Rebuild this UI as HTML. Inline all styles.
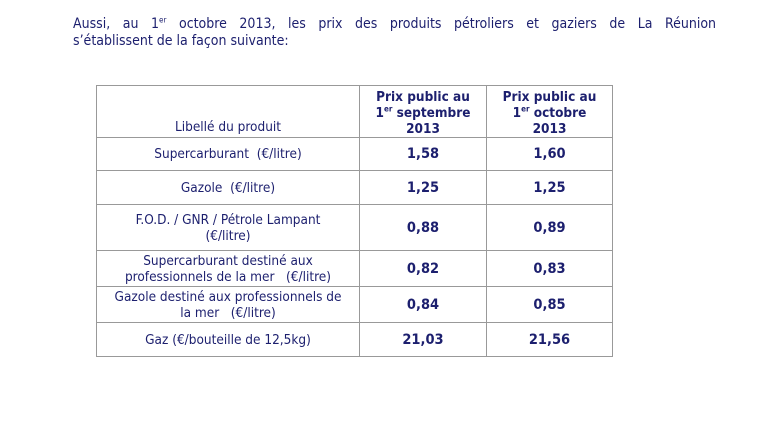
<!DOCTYPE html>
<html><head><meta charset="utf-8"><style>
body{margin:0;width:779px;height:433px;background:#fff;font-family:"DejaVu Sans Condensed","Liberation Sans",sans-serif;color:#1c1f6e;position:relative;overflow:hidden}
.p{position:absolute;left:73px;width:643px;font-size:14px;line-height:17px;white-space:nowrap}
.j{text-align:justify;text-align-last:justify}
table{position:absolute;left:96px;top:85px;border-collapse:collapse;font-size:13.5px;line-height:16px}
td{border:1px solid #999;text-align:center;vertical-align:middle;padding:0 3px}
td.v{font-weight:bold;font-size:14.5px}
sup{font-size:8px;line-height:0}
</style></head><body>
<div class="p j" style="top:16px">Aussi, au 1<sup>er</sup> octobre 2013, les prix des produits pétroliers et gaziers de La Réunion</div>
<div class="p" style="top:33px">s’établissent de la façon suivante:</div>
<table>
<tr style="height:52px"><td style="width:256px;vertical-align:bottom;padding-bottom:2px">Libellé du produit</td><td class="v" style="width:120px;font-size:13.5px;vertical-align:bottom">Prix public au<br>1<sup>er</sup> septembre<br>2013</td><td class="v" style="width:119px;font-size:13.5px;vertical-align:bottom">Prix public au<br>1<sup>er</sup> octobre<br>2013</td></tr>
<tr style="height:33px"><td>Supercarburant &nbsp;(€/litre)</td><td class="v">1,58</td><td class="v">1,60</td></tr>
<tr style="height:34px"><td>Gazole &nbsp;(€/litre)</td><td class="v">1,25</td><td class="v">1,25</td></tr>
<tr style="height:46px"><td>F.O.D. / GNR / Pétrole Lampant<br>(€/litre)</td><td class="v">0,88</td><td class="v">0,89</td></tr>
<tr style="height:36px"><td>Supercarburant destiné aux<br>professionnels de la mer &nbsp;&nbsp;(€/litre)</td><td class="v">0,82</td><td class="v">0,83</td></tr>
<tr style="height:36px"><td>Gazole destiné aux professionnels de<br>la mer &nbsp;&nbsp;(€/litre)</td><td class="v">0,84</td><td class="v">0,85</td></tr>
<tr style="height:34px"><td>Gaz (€/bouteille de 12,5kg)</td><td class="v">21,03</td><td class="v">21,56</td></tr>
</table>
</body></html>
